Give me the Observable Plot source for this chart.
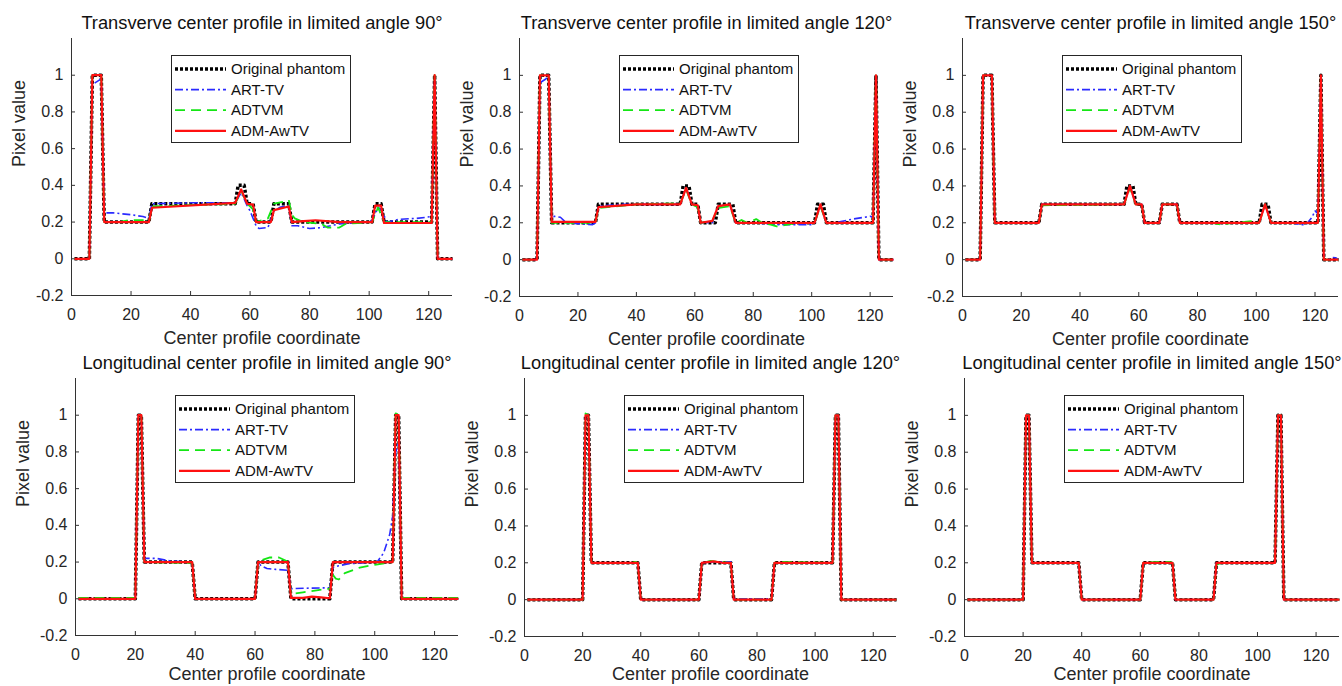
<!DOCTYPE html>
<html><head><meta charset="utf-8">
<script src="https://cdn.jsdelivr.net/npm/d3@7"></script>
<script src="https://cdn.jsdelivr.net/npm/@observablehq/plot@0.6"></script>
<style>
html,body{margin:0;padding:0;background:#fff;}
#root{position:relative;width:1342px;height:686px;overflow:hidden;font-family:"Liberation Sans",Arial,Helvetica,sans-serif;}
#root svg{position:absolute;overflow:visible;}
</style></head><body><div id="root"></div>
<script>
// ---------- tick labels, names ----------
const xTicks = [0, 20, 40, 60, 80, 100, 120];
const yTicks = [-0.2, 0, 0.2, 0.4, 0.6, 0.8, 1];
const seriesNames = ["Original phantom", "ART-TV", "ADTVM", "ADM-AwTV"];
const panelTitles = [
  "Transverve center profile in limited angle 90°",
  "Transverve center profile in limited angle 120°",
  "Transverve center profile in limited angle 150°",
  "Longitudinal center profile in limited angle 90°",
  "Longitudinal center profile in limited angle 120°",
  "Longitudinal center profile in limited angle 150°"
];
const xLabel = "Center profile coordinate";
const yLabel = "Pixel value";

// ---------- profile breakpoints [coordinate, pixel value] ----------
const transOriginal = [[1,0],[6,0],[7,1],[10,1],[11,0.2],[26,0.2],[27,0.3],[55,0.3],[56,0.4],[58,0.4],[59,0.3],[61,0.3],[62,0.2],[67,0.2],[68,0.3],[73,0.3],[74,0.2],[101,0.2],[102,0.3],[104,0.3],[105,0.2],[121,0.2],[122,1],[123,0],[128,0]];
const longOriginal = [[1,0],[20,0],[21,1],[22,1],[23,0.2],[39,0.2],[40,0],[60,0],[61,0.2],[71,0.2],[72,0],[85,0],[86,0.2],[106,0.2],[107,1],[108,1],[109,0],[128,0]];

const trans90ART = [[1,0],[6,0],[7,0.95],[8,0.96],[10,0.98],[11,0.25],[14,0.25],[20,0.24],[24,0.23],[26,0.22],[27,0.3],[40,0.305],[55,0.305],[57,0.36],[59,0.29],[60,0.26],[62,0.18],[63,0.165],[66,0.17],[68,0.26],[70,0.28],[73,0.29],[74,0.18],[76,0.18],[80,0.165],[84,0.17],[90,0.19],[100,0.2],[101,0.21],[103,0.28],[104,0.27],[106,0.2],[110,0.215],[116,0.22],[121,0.23],[122,0.97],[123,0],[128,0]];
const trans90ADTVM = [[1,0],[6,0],[7,1],[10,1],[11,0.2],[16,0.2],[19,0.21],[24,0.21],[26,0.2],[27,0.285],[35,0.29],[45,0.295],[55,0.3],[57,0.37],[59,0.3],[61,0.27],[62,0.2],[64,0.21],[66,0.22],[68,0.3],[71,0.31],[73,0.32],[74,0.24],[75,0.22],[78,0.2],[84,0.19],[86,0.17],[90,0.17],[92,0.19],[101,0.2],[103,0.28],[105,0.2],[121,0.2],[122,1],[123,0],[128,0]];
const trans90AwTV = [[1,0],[6,0],[7,1],[10,1],[11,0.2],[26,0.2],[27,0.278],[55,0.305],[57,0.378],[59,0.3],[61,0.295],[62,0.2],[67,0.2],[68,0.265],[73,0.285],[74,0.2],[78,0.205],[82,0.21],[90,0.2],[101,0.2],[102,0.29],[104,0.29],[105,0.195],[121,0.195],[122,1],[123,0],[128,0]];

const trans120ART = [[1,0],[6,0],[7,0.96],[9,0.98],[10,1],[11,0.23],[12,0.235],[14,0.23],[16,0.2],[20,0.195],[25,0.19],[26,0.2],[27,0.29],[35,0.3],[55,0.3],[57,0.39],[59,0.3],[61,0.29],[62,0.2],[66,0.2],[68,0.29],[72,0.3],[74,0.2],[80,0.2],[88,0.19],[100,0.19],[101,0.2],[103,0.29],[105,0.2],[108,0.2],[114,0.22],[120,0.235],[121,0.23],[122,0.98],[123,0],[128,0]];
const trans120ADTVM = [[1,0],[6,0],[7,1],[10,1],[11,0.2],[26,0.2],[27,0.28],[40,0.3],[55,0.305],[57,0.38],[59,0.3],[61,0.285],[62,0.2],[66,0.21],[68,0.28],[72,0.29],[74,0.2],[76,0.215],[78,0.2],[81,0.22],[83,0.2],[86,0.19],[88,0.18],[90,0.185],[95,0.2],[101,0.2],[103,0.29],[105,0.2],[121,0.2],[122,1],[123,0],[128,0]];
const trans120AwTV = [[1,0],[6,0],[7,1],[10,1],[11,0.205],[26,0.205],[27,0.285],[40,0.3],[55,0.3],[57,0.39],[59,0.3],[61,0.295],[62,0.2],[66,0.21],[68,0.29],[72,0.3],[74,0.2],[101,0.2],[103,0.3],[105,0.2],[121,0.2],[122,1],[123,0],[128,0]];

const trans150ART = [[1,0],[6,0],[7,1],[10,1],[11,0.2],[26,0.2],[27,0.3],[55,0.3],[57,0.4],[59,0.3],[61,0.3],[62,0.2],[67,0.2],[68,0.3],[73,0.3],[74,0.2],[101,0.2],[103,0.3],[105,0.2],[112,0.2],[115,0.19],[117,0.19],[119,0.23],[120,0.265],[121,0.25],[122,1],[123,0],[125,0.005],[126,0.012],[127,0.01],[128,0]];
const trans150ADTVM = [[1,0],[6,0],[7,1],[10,1],[11,0.2],[26,0.2],[27,0.295],[55,0.3],[57,0.39],[59,0.3],[61,0.3],[62,0.2],[67,0.2],[68,0.3],[73,0.3],[74,0.2],[85,0.2],[88,0.19],[92,0.2],[96,0.205],[99,0.21],[101,0.2],[103,0.3],[105,0.2],[121,0.2],[122,1],[123,0],[128,0]];
const trans150AwTV = [[1,0],[6,0],[7,1],[10,1],[11,0.2],[26,0.2],[27,0.3],[55,0.3],[57,0.4],[59,0.3],[61,0.3],[62,0.2],[67,0.2],[68,0.3],[73,0.3],[74,0.2],[101,0.2],[103,0.3],[105,0.2],[121,0.2],[122,1],[123,0],[128,0]];

const long90ART = [[1,0],[20,0],[21,1],[22,1],[23,0.22],[27,0.22],[32,0.205],[39,0.2],[40,0],[60,0],[61,0.2],[62,0.18],[64,0.165],[67,0.16],[71,0.155],[72,0.055],[78,0.058],[85,0.06],[86,0.17],[88,0.18],[91,0.19],[100,0.2],[101,0.205],[103,0.25],[104,0.3],[105,0.35],[106,0.45],[107,0.8],[108,0.85],[109,0],[128,0]];
const long90ADTVM = [[1,0.005],[20,0.005],[21,1],[22,1],[23,0.2],[38,0.195],[39,0.2],[40,0],[60,0],[61,0.2],[62,0.21],[65,0.225],[68,0.225],[70,0.21],[71,0.2],[72,0.025],[76,0.035],[80,0.045],[85,0.055],[86,0.13],[87,0.11],[88,0.105],[90,0.14],[95,0.17],[100,0.185],[106,0.2],[107,1.01],[108,1],[109,0.005],[128,0.005]];
const long90AwTV = [[1,0],[20,0],[21,1],[22,1],[23,0.2],[39,0.2],[40,0],[60,0],[61,0.2],[71,0.2],[72,0.005],[76,0.005],[79,0.012],[82,0.008],[85,0.003],[86,0.2],[106,0.2],[107,1],[108,1],[109,0],[128,0]];

const long120ART = [[1,0],[20,0],[21,1],[22,1],[23,0.2],[39,0.2],[40,0],[60,0],[61,0.2],[65,0.205],[71,0.205],[72,0.004],[85,0.004],[86,0.2],[106,0.2],[107,1],[108,1],[109,0],[128,0]];
const long120ADTVM = [[1,0],[20,0],[21,1.01],[22,1],[23,0.2],[37,0.2],[38,0.205],[39,0.2],[40,0],[60,0],[61,0.2],[64,0.21],[67,0.205],[71,0.2],[72,0],[85,0],[86,0.2],[88,0.205],[106,0.2],[107,1],[108,1],[109,0],[128,0]];
const long120AwTV = [[1,0],[20,0],[21,1],[22,1],[23,0.2],[39,0.2],[40,0],[60,0],[61,0.2],[65,0.208],[68,0.2],[71,0.2],[72,0],[85,0],[86,0.2],[106,0.2],[107,1],[108,1],[109,0],[128,0]];

const long150ART = [[1,0],[20,0],[21,1],[22,1],[23,0.2],[39,0.2],[40,0],[60,0],[61,0.2],[71,0.2],[72,0],[85,0],[86,0.2],[106,0.2],[107,1],[108,1],[109,0],[128,0]];
const long150ADTVM = [[1,0],[20,0],[21,1],[22,1],[23,0.2],[39,0.2],[40,0],[60,0],[61,0.2],[66,0.205],[70,0.205],[71,0.2],[72,0],[85,0],[86,0.19],[88,0.2],[106,0.2],[107,1],[108,1],[109,0],[128,0]];
const long150AwTV = [[1,0],[20,0],[21,1],[22,1],[23,0.2],[39,0.2],[40,0],[60,0],[61,0.2],[71,0.2],[72,0],[85,0],[86,0.2],[106,0.2],[107,1],[108,1],[109,0],[128,0]];

const panelSeries = [
  [transOriginal, trans90ART, trans90ADTVM, trans90AwTV],
  [transOriginal, trans120ART, trans120ADTVM, trans120AwTV],
  [transOriginal, trans150ART, trans150ADTVM, trans150AwTV],
  [longOriginal, long90ART, long90ADTVM, long90AwTV],
  [longOriginal, long120ART, long120ADTVM, long120AwTV],
  [longOriginal, long150ART, long150ADTVM, long150AwTV]
];

// ---------- styling / layout ----------
const lineStyles = [
  {stroke: "#000000", strokeWidth: 3.5, strokeDasharray: "3,2"},
  {stroke: "#2a2aff", strokeWidth: 1.6, strokeDasharray: "8,3,2,3"},
  {stroke: "#14e614", strokeWidth: 1.8, strokeDasharray: "10,6"},
  {stroke: "#ff1010", strokeWidth: 2.2}
];
const axisColor = "#333333";
const textColor = "#262626";
// frame edges in page pixels: left, right, top, bottom; xlabel offset
const frames = [
  {L: 71, R: 452, T: 38, B: 295, xl: 42.5},
  {L: 519, R: 893, T: 38, B: 296, xl: 42.5},
  {L: 962, R: 1338, T: 38, B: 296, xl: 42.5},
  {L: 75, R: 458, T: 378, B: 635, xl: 38.5},
  {L: 524, R: 896, T: 378, B: 636, xl: 37.5},
  {L: 964, R: 1339, T: 378, B: 636, xl: 37.5}
];

const root = document.getElementById("root");
const mL = 62, mR = 4, mT = 38, mB = 50;

frames.forEach((f, pi) => {
  const fw = f.R - f.L, fh = f.B - f.T;
  const lineMarks = panelSeries[pi].map((s, si) =>
    Plot.line(s, {x: d => d[0], y: d => d[1], ...lineStyles[si], strokeLinecap: "butt", strokeLinejoin: "round"})
  );
  const chart = Plot.plot({
    width: mL + fw + mR, height: mT + fh + mB,
    marginLeft: mL, marginRight: mR, marginTop: mT, marginBottom: mB,
    x: {domain: [0, 128]},
    y: {domain: [-0.2, 1.2]},
    style: {background: "transparent", fontFamily: '"Liberation Sans", Arial, Helvetica, sans-serif', fontSize: "16px", color: textColor, overflow: "visible"},
    marks: [
      Plot.axisX({ticks: xTicks, tickSize: 0, tickPadding: 13, label: null, tickFormat: d => String(d), fill: textColor}),
      Plot.axisY({ticks: yTicks, tickSize: 0, tickPadding: 8, label: null, tickFormat: d => String(d), fill: textColor}),
      Plot.ruleX(xTicks, {x: d => d, insetTop: fh - 4, stroke: axisColor}),
      Plot.ruleY(yTicks, {y: d => d, insetRight: fw - 4, stroke: axisColor}),
      Plot.ruleY([-0.2], {stroke: axisColor}),
      Plot.ruleX([0], {stroke: axisColor}),
      ...lineMarks,
      Plot.text([panelTitles[pi]], {frameAnchor: "top", dy: -15.5, fontSize: 18.3, lineAnchor: "middle", fill: "#111"}),
      Plot.text([xLabel], {frameAnchor: "bottom", dy: f.xl, fontSize: 18, lineAnchor: "middle", fill: textColor}),
      Plot.text([yLabel], {frameAnchor: "left", dx: -52.5, rotate: -90, fontSize: 18, lineAnchor: "middle", fill: textColor})
    ]
  });
  chart.style.position = "absolute";
  chart.style.left = (f.L - mL) + "px";
  chart.style.top = (f.T - mT) + "px";
  chart.style.maxWidth = "none";
  root.appendChild(chart);

  // legend box
  const lw = 180, lh = 88;
  const lg = d3.create("svg").attr("width", lw + 1).attr("height", lh + 1)
    .style("left", (f.L + 100) + "px").style("top", (f.T + 17) + "px");
  lg.append("rect").attr("x", 0.5).attr("y", 0.5).attr("width", lw - 1).attr("height", lh - 1)
    .attr("fill", "white").attr("stroke", "#262626").attr("stroke-width", 1);
  seriesNames.forEach((name, i) => {
    const cy = 14 + i * 20.6;
    const st = lineStyles[i];
    lg.append("line").attr("x1", 4).attr("x2", 55).attr("y1", cy).attr("y2", cy)
      .attr("stroke", st.stroke).attr("stroke-width", st.strokeWidth)
      .attr("stroke-dasharray", st.strokeDasharray || null);
    lg.append("text").attr("x", 60).attr("y", cy).attr("dy", "0.35em")
      .attr("font-family", '"Liberation Sans", Arial, sans-serif').attr("font-size", 15)
      .attr("fill", "#111").text(name);
  });
  root.appendChild(lg.node());
});
</script></body></html>
